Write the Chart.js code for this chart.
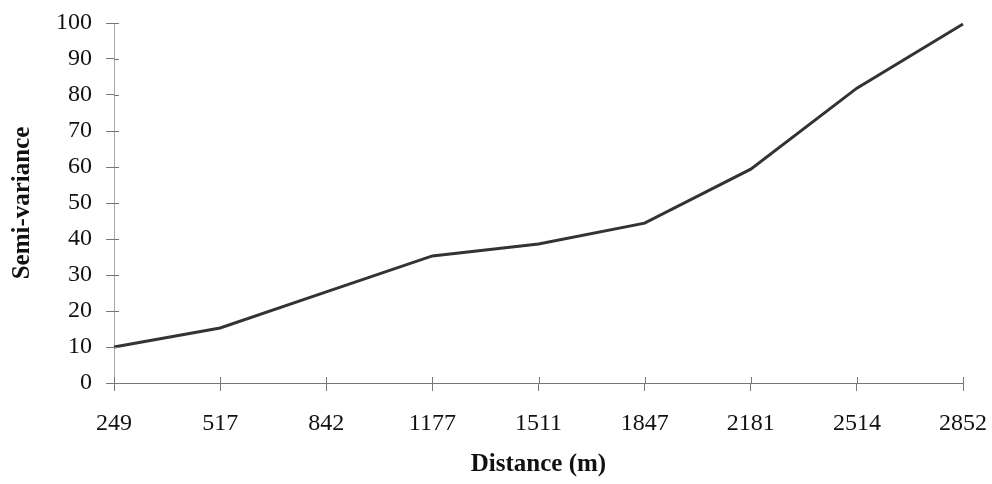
<!DOCTYPE html>
<html>
<head>
<meta charset="utf-8">
<script src="https://cdn.jsdelivr.net/npm/chart.js@4/dist/chart.umd.min.js"></script>
<style>
  html, body { margin: 0; padding: 0; background: #fff; }
  #wrap { width: 992px; height: 484px; position: relative; }
</style>
</head>
<body>
<div id="wrap"><canvas id="c" width="992" height="484"></canvas></div>
<script>
const distances = ['249', '517', '842', '1177', '1511', '1847', '2181', '2514', '2852'];
const semiVariance = [10, 15.3, 25.3, 35.3, 38.6, 44.4, 59.4, 81.9, 99.7];
const yTicks = [0, 10, 20, 30, 40, 50, 60, 70, 80, 90, 100];
const xTitle = 'Distance (m)';
const yTitle = 'Semi-variance';

const FONT = "'Liberation Serif', 'Times New Roman', serif";

const innerTicks = {
  id: 'innerTicks',
  afterDatasetsDraw(chart) {
    const ctx = chart.ctx;
    const x = chart.scales.x, y = chart.scales.y;
    ctx.save();
    ctx.strokeStyle = '#777';
    ctx.lineWidth = 1;
    ctx.beginPath();
    yTicks.forEach(v => {
      const py = Math.round(y.getPixelForValue(v)) + 0.5;
      ctx.moveTo(x.left, py);
      ctx.lineTo(x.left + 5, py);
    });
    distances.forEach((d, i) => {
      const px = Math.round(x.getPixelForValue(i)) + 0.5;
      ctx.moveTo(px, y.bottom);
      ctx.lineTo(px, y.bottom - 6);
    });
    ctx.stroke();
    ctx.restore();
  }
};

new Chart(document.getElementById('c'), {
  type: 'line',
  data: {
    labels: distances,
    datasets: [{
      data: semiVariance,
      borderColor: '#333333',
      borderWidth: 3,
      pointRadius: 0,
      tension: 0,
      fill: false
    }]
  },
  options: {
    responsive: false,
    animation: false,
    devicePixelRatio: 1,
    layout: { padding: { left: 0, right: 29, top: 23, bottom: 0 } },
    plugins: { legend: { display: false }, tooltip: { enabled: false } },
    scales: {
      x: {
        type: 'category',
        offset: false,
        afterFit(s) { s.height = 101; s.paddingLeft = 0; s.paddingRight = 0; },
        grid: { display: true, drawOnChartArea: false, drawTicks: true, tickLength: 8, color: '#777' },
        border: { display: true, color: '#777', width: 1 },
        ticks: { color: '#111', font: { family: FONT, size: 24 }, padding: 18, maxRotation: 0, autoSkip: false },
        title: { display: true, text: xTitle, color: '#111', font: { family: FONT, size: 25, weight: 'bold' }, padding: { top: 0, bottom: 4 } }
      },
      y: {
        min: 0, max: 100,
        afterFit(s) { s.width = 114; s.paddingTop = 0; s.paddingBottom = 0; },
        afterBuildTicks(s) { s.ticks = yTicks.map(v => ({ value: v })); },
        grid: { display: true, drawOnChartArea: false, drawTicks: true, tickLength: 8, color: '#777' },
        border: { display: true, color: '#aaa', width: 1, dash: [3, 2] },
        ticks: { color: '#111', font: { family: FONT, size: 24 }, padding: 14 },
        title: { display: true, text: yTitle, color: '#111', font: { family: FONT, size: 25, weight: 'bold' }, padding: { top: 8, bottom: 0 } }
      }
    }
  },
  plugins: [innerTicks]
});
</script>
</body>
</html>
